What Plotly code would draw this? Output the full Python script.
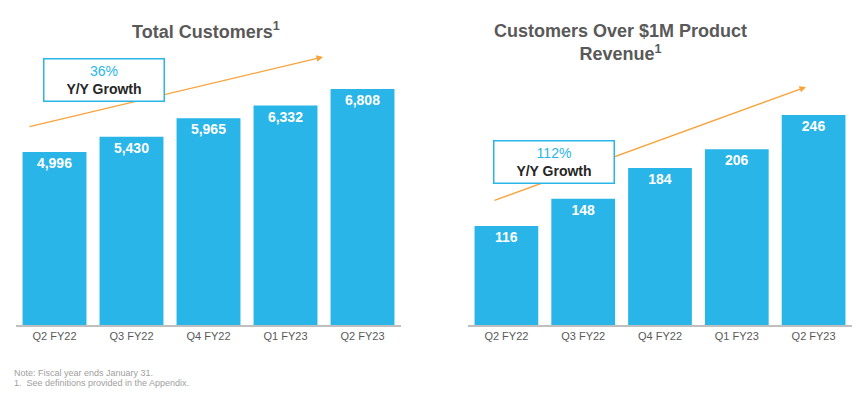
import plotly.graph_objects as go

quarters = ["Q2 FY22", "Q3 FY22", "Q4 FY22", "Q1 FY23", "Q2 FY23"]
total_customers = [4996, 5430, 5965, 6332, 6808]
million_customers = [116, 148, 184, 206, 246]
growth_total = "36%"
growth_million = "112%"

W, H = 867, 393
ML, MR, MT, MB = 16, 15, 20, 68
PW = W - ML - MR
PH = H - MT - MB

def px(x):
    return (x - ML) / PW

def py(y):
    return (H - MB - y) / PH

BLUE = "#29B5E8"
ORANGE = "#F9A23A"
GRAY = "#595959"

fig = go.Figure()
fig.add_trace(go.Bar(
    x=quarters, y=total_customers, xaxis="x", yaxis="y",
    marker=dict(color=BLUE, line=dict(width=0)),
    text=[f"{v:,}" for v in total_customers], textposition="inside",
    insidetextanchor="end", textangle=0,
    textfont=dict(family="Liberation Sans", size=14, color="white", weight="bold"),
    hoverinfo="x+y"))
fig.add_trace(go.Bar(
    x=quarters, y=million_customers, xaxis="x2", yaxis="y2",
    marker=dict(color=BLUE, line=dict(width=0)),
    text=[f"{v:,}" for v in million_customers], textposition="inside",
    insidetextanchor="end", textangle=0,
    textfont=dict(family="Liberation Sans", size=14, color="white", weight="bold"),
    hoverinfo="x+y"))

xcommon = dict(showgrid=False, zeroline=False, showline=True, linecolor="#BFBFBF",
               linewidth=1.5, ticks="", tickfont=dict(family="Liberation Sans", size=11, color=GRAY),
               fixedrange=True)
ycommon = dict(visible=False, showgrid=False, zeroline=False, fixedrange=True)

fig.update_layout(
    width=W, height=H,
    margin=dict(l=ML, r=MR, t=MT, b=MB, pad=0),
    paper_bgcolor="white", plot_bgcolor="white",
    showlegend=False, bargap=0.17,
    font=dict(family="Liberation Sans"),
    xaxis=dict(domain=[0, px(401)], anchor="y", **xcommon),
    xaxis2=dict(domain=[px(468), 1], anchor="y2", **xcommon),
    yaxis=dict(domain=[0, 1], range=[0, PH / 0.03465], anchor="x", **ycommon),
    yaxis2=dict(domain=[0, 1], range=[0, PH / 0.8535], anchor="x2", **ycommon),
)

anns = []
# arrows (drawn first so boxes cover them)
anns.append(dict(xref="paper", yref="paper", x=px(323), y=py(57), ax=28 - 323, ay=127 - 57,
                 text="", showarrow=True, arrowhead=2, arrowsize=1, arrowwidth=1.3,
                 arrowcolor=ORANGE))
anns.append(dict(xref="paper", yref="paper", x=px(806), y=py(87), ax=493 - 806, ay=201 - 87,
                 text="", showarrow=True, arrowhead=2, arrowsize=1, arrowwidth=1.3,
                 arrowcolor=ORANGE))
# growth boxes
for (cx, cy, g) in [(104, 80, growth_total), (554, 162, growth_million)]:
    anns.append(dict(xref="paper", yref="paper", x=px(cx), y=py(cy),
                     xanchor="center", yanchor="middle", showarrow=False,
                     text=f"<span style='color:{BLUE}'>{g}</span><br><b>Y/Y Growth</b>",
                     font=dict(family="Liberation Sans", size=14, color="#262626"),
                     bgcolor="white", bordercolor=BLUE, borderwidth=1.5,
                     width=117, height=39, align="center"))
# titles
anns.append(dict(xref="paper", yref="paper", x=px(206), y=py(30), xanchor="center", yanchor="middle",
                 showarrow=False, text="<b>Total Customers<sup>1</sup></b>",
                 font=dict(family="Liberation Sans", size=18, color=GRAY)))
anns.append(dict(xref="paper", yref="paper", x=px(620), y=py(42), xanchor="center", yanchor="middle",
                 showarrow=False, text="<b>Customers Over $1M Product<br>Revenue<sup>1</sup></b>",
                 font=dict(family="Liberation Sans", size=18, color=GRAY)))
# footnotes
anns.append(dict(xref="paper", yref="paper", x=px(12), y=py(373), xanchor="left", yanchor="middle",
                 showarrow=False, text="Note: Fiscal year ends January 31.",
                 font=dict(family="Liberation Sans", size=9, color="#A0A0A0")))
anns.append(dict(xref="paper", yref="paper", x=px(12), y=py(383), xanchor="left", yanchor="middle",
                 showarrow=False, text="1.  See definitions provided in the Appendix.",
                 font=dict(family="Liberation Sans", size=9, color="#A0A0A0")))
fig.update_layout(annotations=anns)

fig.write_html("out.html", config={"displayModeBar": False},
               post_script="document.body.style.margin='0';document.body.style.overflow='hidden';")
